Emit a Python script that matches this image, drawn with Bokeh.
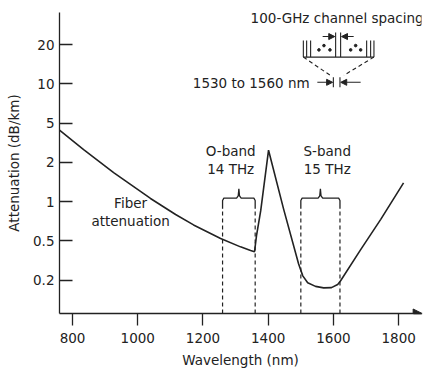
import numpy as np
from bokeh.plotting import figure
from bokeh.models import Range1d, FixedTicker, Label, Arrow, NormalHead, ColumnDataSource
from bokeh.embed import file_html
from bokeh.resources import INLINE

# ---------------- data ----------------
# y-axis tick values (dB/km); the reference draws them equally spaced
tick_vals = [0.2, 0.5, 1, 2, 5, 10, 20]
tick_labels = ["0.2", "0.5", "1", "2", "5", "10", "20"]
x_ticks = [800, 1000, 1200, 1400, 1600, 1800]

# fiber attenuation curve: wavelength (nm) and attenuation (dB/km)
wavelength = [760, 834, 926, 1039, 1116, 1171, 1254, 1315, 1346, 1358, 1364,
              1377, 1401, 1447, 1493, 1506, 1521, 1545, 1570, 1594, 1613,
              1622, 1683, 1745, 1815]
attenuation = [4.24, 2.69, 1.672, 1.058, 0.797, 0.663, 0.522, 0.435, 0.399, 0.388, 0.547,
               0.853, 2.66, 0.88, 0.293, 0.221, 0.188, 0.173, 0.167, 0.168, 0.181,
               0.197, 0.406, 0.732, 1.395]

o_band = [1260, 1360]
s_band = [1500, 1620]
o_label = ["O-band", "14 THz"]
s_label = ["S-band", "15 THz"]

FONT = "DejaVu Sans"
FS = "13.5px"
INK = "#222222"


def to_pos(v):
    """Map attenuation to axis position (equally spaced tick labels)."""
    lt = np.log10(tick_vals)
    idx = np.arange(len(tick_vals), dtype=float)
    lv = np.log10(np.atleast_1d(np.asarray(v, dtype=float)))
    pos = np.interp(lv, lt, idx)
    lo = lv < lt[0]
    pos[lo] = (lv[lo] - lt[0]) / (lt[1] - lt[0])
    hi = lv > lt[-1]
    pos[hi] = idx[-1] + (lv[hi] - lt[-1]) / (lt[-1] - lt[-2])
    return pos


p = figure(width=423, height=370, output_backend="svg", toolbar_location=None,
           x_range=Range1d(760, 1870), y_range=Range1d(-0.85, 6.82),
           min_border_left=59, min_border_right=2, min_border_top=12,
           min_border_bottom=57)
p.outline_line_color = None
p.grid.visible = False
p.background_fill_color = "white"
p.border_fill_color = "white"

# axes
xa = p.xaxis[0]
xa.ticker = FixedTicker(ticks=x_ticks)
xa.major_tick_out = 12
xa.major_tick_in = 0
xa.minor_tick_line_color = None
xa.major_label_standoff = 7
xa.axis_label = "Wavelength (nm)"
xa.axis_label_standoff = 6
for ax in (p.xaxis[0], p.yaxis[0]):
    ax.axis_line_color = INK
    ax.axis_line_width = 1.3
    ax.major_tick_line_color = INK
    ax.major_tick_line_width = 1.3
    ax.major_label_text_font = FONT
    ax.major_label_text_font_size = FS
    ax.major_label_text_color = INK
    ax.axis_label_text_font = FONT
    ax.axis_label_text_font_size = FS
    ax.axis_label_text_font_style = "normal"
    ax.axis_label_text_color = INK

ya = p.yaxis[0]
ya.ticker = FixedTicker(ticks=list(range(len(tick_vals))))
ya.major_label_overrides = {i: lab for i, lab in enumerate(tick_labels)}
ya.major_tick_in = 13
ya.major_tick_out = 0
ya.minor_tick_line_color = None
ya.major_label_standoff = 5
ya.axis_label = "Attenuation (dB/km)"
ya.axis_label_standoff = 8

# x-axis arrow head
p.add_layout(Arrow(end=NormalHead(size=9, fill_color=INK, line_color=INK),
                   x_start=1845, y_start=-0.85, x_end=1872, y_end=-0.85,
                   line_color=INK, line_width=1.3))

# attenuation curve
src = ColumnDataSource(dict(x=wavelength, y=to_pos(attenuation)))
p.line("x", "y", source=src, line_color=INK, line_width=1.6)

# band markers: dashed verticals + braces
y_axis_bottom = -0.85
brace_foot, brace_bar, brace_tip = 1.82, 2.09, 2.33
for band, lab, lab_x in ((o_band, o_label, 1285), (s_band, s_label, 1581)):
    x0, x1 = band
    xc = 0.5 * (x0 + x1)
    for xe in (x0, x1):
        p.line([xe, xe], [y_axis_bottom, brace_foot], line_color=INK,
               line_width=1.2, line_dash="4 3")
    bx = [x0, x0, x0 + 4, xc - 7, xc - 2, xc, xc + 2, xc + 7, x1 - 4, x1, x1]
    by = [brace_foot, brace_bar - 0.06, brace_bar, brace_bar, brace_bar + 0.06,
          brace_tip, brace_bar + 0.06, brace_bar, brace_bar, brace_bar - 0.06, brace_foot]
    p.line(bx, by, line_color=INK, line_width=1.3)
    for txt, yy in zip(lab, (3.30, 2.84)):
        p.add_layout(Label(x=lab_x, y=yy, text=txt, text_align="center",
                           text_baseline="middle", text_font=FONT,
                           text_font_size=FS, text_color=INK))

for txt, yy in (("Fiber", 1.97), ("attenuation", 1.51)):
    p.add_layout(Label(x=978, y=yy, text=txt, text_align="center",
                       text_baseline="middle", text_font=FONT,
                       text_font_size=FS, text_color=INK))

# ---- inset: 100-GHz channel spacing ----
p.add_layout(Label(x=1346, y=6.68, text="100-GHz channel spacing", text_align="left",
                   text_baseline="middle", text_font=FONT, text_font_size=FS,
                   text_color=INK))
comb_base, comb_top, comb_mid_top = 5.684, 6.105, 6.309
comb_x = [1507.7, 1517.8, 1530, 1701.8, 1714, 1724.2]
mid_x = [1606.7, 1622]
p.line([1507.7, 1724.2], [comb_base, comb_base], line_color=INK, line_width=1.1)
for cx in comb_x:
    p.line([cx, cx], [comb_base, comb_top], line_color=INK, line_width=1.1)
for cx in mid_x:
    p.line([cx, cx], [comb_base, comb_mid_top], line_color=INK, line_width=1.1)
p.scatter([1555.5, 1570.9, 1589.3, 1652.8, 1668.1, 1683.4],
          [5.867, 5.977, 5.867, 5.867, 5.977, 5.867], size=2.6, color=INK)
for xs, xe in ((1566.9, 1604.0), (1662.0, 1624.7)):
    p.add_layout(Arrow(end=NormalHead(size=6, fill_color=INK, line_color=INK),
                       x_start=xs, y_start=6.207, x_end=xe, y_end=6.207,
                       line_color=INK, line_width=1.1))
# converging dashed guides
p.line([1507.7, 1590], [5.684, 5.22], line_color=INK, line_width=1.1, line_dash="4 3")
p.line([1724.2, 1632], [5.684, 5.22], line_color=INK, line_width=1.1, line_dash="4 3")
# small 1530-1560 nm marker
for mx in (1599.7, 1620):
    p.line([mx, mx], [4.913, 5.168], line_color=INK, line_width=1.1)
for xs, xe in ((1550.6, 1597.5), (1683.4, 1622.3)):
    p.add_layout(Arrow(end=NormalHead(size=6, fill_color=INK, line_color=INK),
                       x_start=xs, y_start=5.041, x_end=xe, y_end=5.041,
                       line_color=INK, line_width=1.1))
p.add_layout(Label(x=1527, y=5.03, text="1530 to 1560 nm", text_align="right",
                   text_baseline="middle", text_font=FONT, text_font_size=FS,
                   text_color=INK))

open("out.html", "w").write(file_html(p, INLINE))
